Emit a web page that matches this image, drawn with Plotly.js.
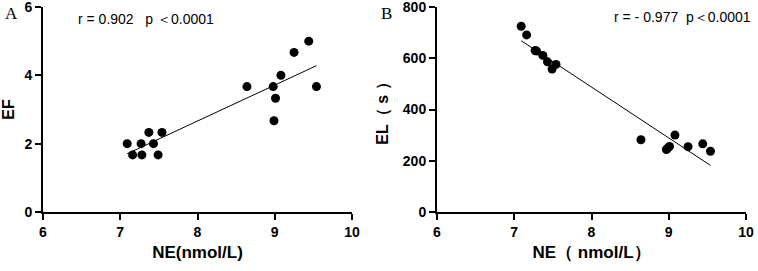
<!DOCTYPE html>
<html>
<head>
<meta charset="utf-8">
<script src="https://cdn.plot.ly/plotly-3.0.1.min.js"></script>
<style>html,body{margin:0;padding:0;background:#fff;}#chart{width:758px;height:271px;}</style>
</head>
<body>
<div id="chart"></div>
<script>
// NE (nmol/L) values
const neValues = [7.09, 7.16, 7.27, 7.28, 7.37, 7.43, 7.49, 7.54, 8.64, 8.98, 8.99, 9.01, 9.08, 9.25, 9.44, 9.54];
// Panel A: EF
const efValues = [2.0, 1.67, 2.0, 1.67, 2.33, 2.0, 1.67, 2.33, 3.67, 3.67, 2.67, 3.33, 4.0, 4.67, 5.0, 3.67];
// Panel B: EL (s)
const neValuesB = [7.09, 7.16, 7.27, 7.29, 7.37, 7.43, 7.49, 7.54, 8.64, 8.97, 8.99, 9.01, 9.08, 9.25, 9.44, 9.54];
const elValues = [725, 691, 630, 628, 611, 586, 558, 576, 282, 244, 250, 256, 300, 255, 266, 237];

const xTicks = [6, 7, 8, 9, 10];
const yTicksA = [0, 2, 4, 6];
const yTicksB = [0, 200, 400, 600, 800];
const statsA = "r = 0.902\u00a0\u00a0\u00a0p \uFF1C0.0001";
const statsB = "r = - 0.977\u00a0\u00a0p\uFF1C0.0001";

function fit(xs, ys) {
  const n = xs.length;
  const mx = xs.reduce((a, b) => a + b, 0) / n;
  const my = ys.reduce((a, b) => a + b, 0) / n;
  let sxy = 0, sxx = 0;
  for (let i = 0; i < n; i++) { sxy += (xs[i] - mx) * (ys[i] - my); sxx += (xs[i] - mx) ** 2; }
  const b = sxy / sxx, a = my - b * mx;
  const x0 = Math.min(...xs), x1 = Math.max(...xs);
  return { x: [x0, x1], y: [a + b * x0, a + b * x1] };
}
const fitA = fit(neValues, efValues);
const fitB = fit(neValuesB, elValues);
const bold = v => v.map(t => '<b>' + t + '</b>');

const marker = { color: '#000', size: 9 };
const traces = [
  { x: neValues, y: efValues, mode: 'markers', type: 'scatter', marker: marker, xaxis: 'x', yaxis: 'y' },
  { x: fitA.x, y: fitA.y, mode: 'lines', type: 'scatter', line: { color: '#000', width: 1 }, xaxis: 'x', yaxis: 'y' },
  { x: neValuesB, y: elValues, mode: 'markers', type: 'scatter', marker: marker, xaxis: 'x2', yaxis: 'y2' },
  { x: fitB.x, y: fitB.y, mode: 'lines', type: 'scatter', line: { color: '#000', width: 1 }, xaxis: 'x2', yaxis: 'y2' }
];

const tickFont = { family: 'Arial, Liberation Sans, sans-serif', size: 14, color: '#000', weight: 'bold' };
const titleFont = { family: 'Arial, Liberation Sans, sans-serif', size: 17, color: '#000', weight: 'bold' };
function axisBase() {
  return {
    showline: true, linewidth: 2, linecolor: '#000', ticks: 'outside', ticklen: 6, tickwidth: 2, tickcolor: '#000',
    showgrid: false, zeroline: false, tickfont: tickFont, fixedrange: true, ticklabeloverflow: 'allow',
    tickmode: 'array'
  };
}

const W = 758, H = 271;
const layout = {
  width: W, height: H,
  margin: { l: 0, r: 0, t: 0, b: 0 },
  paper_bgcolor: '#fff', plot_bgcolor: '#fff',
  showlegend: false,
  xaxis: Object.assign(axisBase(), { domain: [43 / W, 352 / W], range: [6, 10], tickvals: xTicks, ticktext: bold(xTicks), anchor: 'y',
    title: { text: '<b>NE(nmol/L)</b>', font: titleFont, standoff: 7 } }),
  yaxis: Object.assign(axisBase(), { domain: [(H - 212) / H, (H - 7) / H], range: [0, 6], tickvals: yTicksA, ticktext: bold(yTicksA), anchor: 'x',
    title: { text: '<b>EF</b>', font: Object.assign({}, titleFont, { size: 16 }), standoff: 10 } }),
  xaxis2: Object.assign(axisBase(), { domain: [437 / W, 746 / W], range: [6, 10], tickvals: xTicks, ticktext: bold(xTicks), anchor: 'y2',
    title: { text: '<b>NE\uFF08 nmol/L\uFF09</b>', font: titleFont, standoff: 7 } }),
  yaxis2: Object.assign(axisBase(), { domain: [(H - 212) / H, (H - 7) / H], range: [0, 800], tickvals: yTicksB, ticktext: bold(yTicksB), anchor: 'x2',
    title: { text: '<b>EL\uFF08 s \uFF09</b>', font: Object.assign({}, titleFont, { size: 16 }), standoff: 10 } }),
  annotations: [
    { text: 'A', xref: 'paper', yref: 'paper', x: 3 / W, y: 1 - 2 / H, xanchor: 'left', yanchor: 'top', showarrow: false,
      font: { family: 'Liberation Serif, DejaVu Serif, serif', size: 17, color: '#000' } },
    { text: 'B', xref: 'paper', yref: 'paper', x: 379 / W, y: 1 - 2 / H, xanchor: 'left', yanchor: 'top', showarrow: false,
      font: { family: 'Liberation Serif, DejaVu Serif, serif', size: 17, color: '#000' } },
    { text: statsA, xref: 'paper', yref: 'paper', x: 76 / W, y: 1 - 19 / H, xanchor: 'left', yanchor: 'middle', showarrow: false,
      font: { family: 'Arial, Liberation Sans, sans-serif', size: 14, color: '#000' } },
    { text: statsB, xref: 'paper', yref: 'paper', x: 753 / W, y: 1 - 17 / H, xanchor: 'right', yanchor: 'middle', showarrow: false,
      font: { family: 'Arial, Liberation Sans, sans-serif', size: 14, color: '#000' } }
  ]
};

Plotly.newPlot('chart', traces, layout, { displayModeBar: false, staticPlot: true });
</script>
</body>
</html>
